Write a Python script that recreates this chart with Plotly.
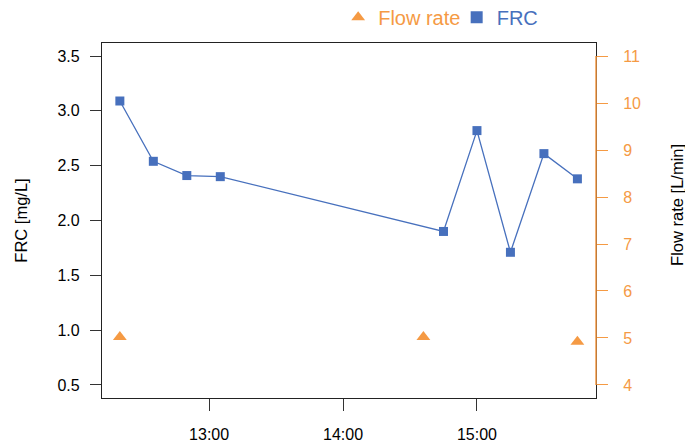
import plotly.graph_objects as go

# --- data ---
frc_times = ["2020-01-01 12:20", "2020-01-01 12:35", "2020-01-01 12:50", "2020-01-01 13:05",
             "2020-01-01 14:45", "2020-01-01 15:00", "2020-01-01 15:15", "2020-01-01 15:30",
             "2020-01-01 15:45"]
frc_values = [3.09, 2.54, 2.41, 2.40, 1.90, 2.82, 1.71, 2.61, 2.38]

flow_times = ["2020-01-01 12:20", "2020-01-01 14:36", "2020-01-01 15:45"]
flow_values = [5.02, 5.02, 4.92]

x_ticks = ["2020-01-01 13:00", "2020-01-01 14:00", "2020-01-01 15:00"]
x_tick_labels = ["13:00", "14:00", "15:00"]
frc_ticks = [0.5, 1.0, 1.5, 2.0, 2.5, 3.0, 3.5]
flow_ticks = [4, 5, 6, 7, 8, 9, 10, 11]

ORANGE = "#F59A44"
BLUE = "#4770BD"
FONT = "Liberation Sans, Arial, sans-serif"

# the page body adds an 8px offset, so the figure is drawn 8px smaller
W, H = 685, 435

fig = go.Figure()
fig.add_trace(go.Scatter(
    x=flow_times, y=flow_values, yaxis="y2", mode="markers",
    marker=dict(symbol="triangle-up", size=12, color=ORANGE),
    name=f"<span style='color:{ORANGE}'>Flow rate</span>", legend="legend",
))
fig.add_trace(go.Scatter(
    x=frc_times, y=frc_values, mode="lines+markers",
    line=dict(color=BLUE, width=1.3),
    marker=dict(symbol="square", size=9, color=BLUE),
    name=f"<span style='color:{BLUE}'>FRC</span>", showlegend=False,
))
# legend-only entry for FRC (marker without line)
fig.add_trace(go.Scatter(
    x=[None], y=[None], mode="markers",
    marker=dict(symbol="square", size=9, color=BLUE),
    name=f"<span style='color:{BLUE}'>FRC</span>", legend="legend2",
))

legend_common = dict(orientation="h", xref="container", yref="container",
                     xanchor="left", y=0.979, yanchor="middle",
                     font=dict(size=20), itemsizing="constant", itemwidth=30,
                     tracegroupgap=0, bgcolor="rgba(0,0,0,0)")

fig.update_layout(
    width=W, height=H,
    margin=dict(l=94, r=97, t=35, b=45, autoexpand=False),
    paper_bgcolor="white", plot_bgcolor="white",
    font=dict(family=FONT, size=16, color="black"),
    showlegend=True,
    legend=dict(x=0.482, **legend_common),
    legend2=dict(x=0.655, **legend_common),
    xaxis=dict(type="date", range=["2020-01-01 12:12", "2020-01-01 15:53:20"],
               tickvals=x_ticks, ticktext=x_tick_labels, automargin=False,
               ticks="outside", ticklen=12, tickcolor="#333", tickwidth=1.2,
               ticklabelstandoff=10,
               showline=True, linecolor="#222", linewidth=1.3, mirror=True,
               showgrid=False, zeroline=False, tickfont=dict(size=16)),
    yaxis=dict(range=[0.381, 3.619], tickvals=frc_ticks, automargin=False,
               ticktext=[f"{v:.1f}" for v in frc_ticks],
               ticks="outside", ticklen=11, tickcolor="#333", tickwidth=1.2,
               ticklabelstandoff=7,
               showline=True, linecolor="#222", linewidth=1.3, mirror=True,
               showgrid=False, zeroline=False, tickfont=dict(size=16),
               title=dict(text="FRC [mg/L]", font=dict(size=16.5), standoff=25)),
    yaxis2=dict(overlaying="y", side="right", range=[3.723, 11.277], automargin=False,
                tickvals=flow_ticks, ticks="outside", ticklen=11,
                tickcolor=ORANGE, tickwidth=1.2, ticklabelstandoff=12,
                showline=False, showgrid=False, zeroline=False,
                tickfont=dict(size=16, color=ORANGE)),
)
fig.add_annotation(text="Flow rate [L/min]", xref="paper", yref="paper",
                   x=1, y=0.544, xanchor="center", yanchor="middle",
                   xshift=81, textangle=-90, showarrow=False,
                   font=dict(size=16.5, color="black"))
fig.add_shape(type="line", xref="paper", x0=1, x1=1, yref="y2",
              y0=min(flow_ticks), y1=max(flow_ticks),
              line=dict(color=ORANGE, width=1.5))

fig.write_html("out.html")
